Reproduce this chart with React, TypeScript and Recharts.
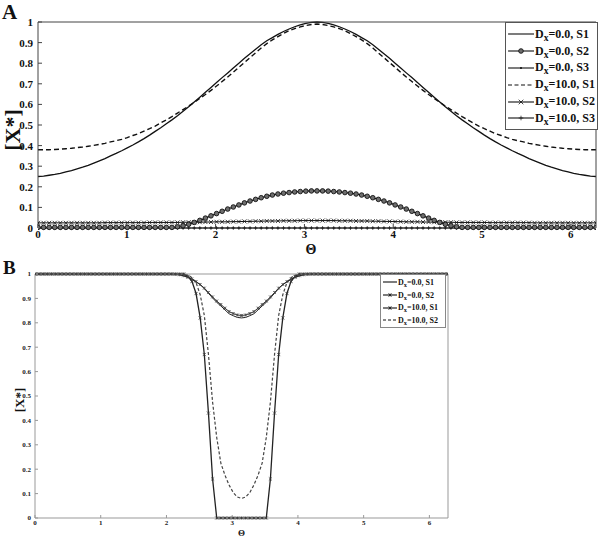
import React from "react";
import { LineChart, Line, XAxis, YAxis, Legend } from "recharts";

// sample grid, 0..2π in 100 steps
const THETA = [
  0, 0.0628, 0.1257, 0.1885, 0.2513, 0.3142, 0.377, 0.4398, 0.5027, 0.5655,
  0.6283, 0.6912, 0.754, 0.8168, 0.8796, 0.9425, 1.0053, 1.0681, 1.131, 1.1938,
  1.2566, 1.3195, 1.3823, 1.4451, 1.508, 1.5708, 1.6336, 1.6965, 1.7593, 1.8221,
  1.885, 1.9478, 2.0106, 2.0735, 2.1363, 2.1991, 2.2619, 2.3248, 2.3876, 2.4504,
  2.5133, 2.5761, 2.6389, 2.7018, 2.7646, 2.8274, 2.8903, 2.9531, 3.0159, 3.0788,
  3.1416,
  3.2044, 3.2673, 3.3301, 3.3929, 3.4558, 3.5186, 3.5814, 3.6442, 3.7071, 3.7699,
  3.8327, 3.8956, 3.9584, 4.0212, 4.0841, 4.1469, 4.2097, 4.2726, 4.3354, 4.3982,
  4.4611, 4.5239, 4.5867, 4.6496, 4.7124, 4.7752, 4.8381, 4.9009, 4.9637, 5.0265,
  5.0894, 5.1522, 5.215, 5.2779, 5.3407, 5.4035, 5.4664, 5.5292, 5.592, 5.6549,
  5.7177, 5.7805, 5.8434, 5.9062, 5.969, 6.0319, 6.0947, 6.1575, 6.2204, 6.2832,
];

// panel A
const A_D0_S1 = [
  0.25, 0.252, 0.256, 0.26, 0.265, 0.272, 0.279, 0.287, 0.295, 0.304,
  0.315, 0.326, 0.337, 0.35, 0.362, 0.375, 0.389, 0.403, 0.418, 0.434,
  0.451, 0.469, 0.487, 0.506, 0.525, 0.545, 0.567, 0.589, 0.612, 0.635,
  0.659, 0.682, 0.706, 0.73, 0.753, 0.777, 0.8, 0.824, 0.846, 0.868,
  0.89, 0.909, 0.924, 0.94, 0.954, 0.966, 0.977, 0.986, 0.993, 0.998,
  1.0,
  0.998, 0.993, 0.986, 0.977, 0.966, 0.954, 0.94, 0.924, 0.909, 0.89,
  0.868, 0.846, 0.824, 0.8, 0.777, 0.753, 0.73, 0.706, 0.682, 0.659,
  0.635, 0.612, 0.589, 0.567, 0.545, 0.525, 0.506, 0.487, 0.469, 0.451,
  0.434, 0.418, 0.403, 0.389, 0.375, 0.362, 0.35, 0.337, 0.326, 0.315,
  0.304, 0.295, 0.287, 0.279, 0.272, 0.265, 0.26, 0.256, 0.252, 0.25,
];
const A_D0_S2 = [
  0.003, 0.003, 0.003, 0.003, 0.003, 0.003, 0.003, 0.003, 0.003, 0.003,
  0.003, 0.003, 0.003, 0.003, 0.003, 0.003, 0.003, 0.003, 0.003, 0.003,
  0.003, 0.003, 0.003, 0.003, 0.003, 0.006, 0.011, 0.018, 0.027, 0.037,
  0.048, 0.059, 0.07, 0.081, 0.092, 0.102, 0.112, 0.122, 0.131, 0.139,
  0.147, 0.154, 0.16, 0.165, 0.169, 0.172, 0.175, 0.177, 0.179, 0.18,
  0.18,
  0.18, 0.179, 0.177, 0.175, 0.172, 0.169, 0.165, 0.16, 0.154, 0.147,
  0.139, 0.131, 0.122, 0.112, 0.102, 0.092, 0.081, 0.07, 0.059, 0.048,
  0.037, 0.027, 0.018, 0.011, 0.006, 0.003, 0.003, 0.003, 0.003, 0.003,
  0.003, 0.003, 0.003, 0.003, 0.003, 0.003, 0.003, 0.003, 0.003, 0.003,
  0.003, 0.003, 0.003, 0.003, 0.003, 0.003, 0.003, 0.003, 0.003, 0.003,
];
const A_D0_S3 = [
  0, 0, 0, 0, 0, 0, 0, 0, 0, 0, 0, 0, 0, 0, 0, 0, 0, 0, 0, 0,
  0, 0, 0, 0, 0, 0, 0, 0, 0, 0, 0, 0, 0, 0, 0, 0, 0, 0, 0, 0,
  0, 0, 0, 0, 0, 0, 0, 0, 0, 0, 0,
  0, 0, 0, 0, 0, 0, 0, 0, 0, 0, 0, 0, 0, 0, 0, 0, 0, 0, 0, 0,
  0, 0, 0, 0, 0, 0, 0, 0, 0, 0, 0, 0, 0, 0, 0, 0, 0, 0, 0, 0,
  0, 0, 0, 0, 0, 0, 0, 0, 0, 0,
];
const A_D10_S1 = [
  0.38, 0.38, 0.38, 0.381, 0.383, 0.385, 0.387, 0.39, 0.393, 0.397,
  0.401, 0.406, 0.411, 0.418, 0.424, 0.43, 0.439, 0.449, 0.458, 0.47,
  0.482, 0.495, 0.51, 0.525, 0.541, 0.558, 0.575, 0.592, 0.61, 0.629,
  0.648, 0.668, 0.689, 0.711, 0.733, 0.756, 0.78, 0.803, 0.827, 0.85,
  0.874, 0.895, 0.913, 0.929, 0.944, 0.958, 0.968, 0.976, 0.983, 0.988,
  0.99,
  0.988, 0.983, 0.976, 0.968, 0.958, 0.944, 0.929, 0.913, 0.895, 0.874,
  0.85, 0.827, 0.803, 0.78, 0.756, 0.733, 0.711, 0.689, 0.668, 0.648,
  0.629, 0.61, 0.592, 0.575, 0.558, 0.541, 0.525, 0.51, 0.495, 0.482,
  0.47, 0.458, 0.449, 0.439, 0.43, 0.424, 0.418, 0.411, 0.406, 0.401,
  0.397, 0.393, 0.39, 0.387, 0.385, 0.383, 0.381, 0.38, 0.38, 0.38,
];
const A_D10_S2 = [
  0.025, 0.025, 0.025, 0.025, 0.025, 0.025, 0.025, 0.025, 0.025, 0.025,
  0.025, 0.025, 0.026, 0.026, 0.026, 0.026, 0.026, 0.026, 0.026, 0.026,
  0.027, 0.027, 0.027, 0.027, 0.027, 0.027, 0.028, 0.028, 0.028, 0.028,
  0.029, 0.029, 0.03, 0.03, 0.03, 0.031, 0.031, 0.032, 0.032, 0.033,
  0.033, 0.034, 0.034, 0.034, 0.035, 0.035, 0.035, 0.036, 0.036, 0.036,
  0.036,
  0.036, 0.036, 0.036, 0.035, 0.035, 0.035, 0.034, 0.034, 0.034, 0.033,
  0.033, 0.032, 0.032, 0.031, 0.031, 0.03, 0.03, 0.03, 0.029, 0.029,
  0.028, 0.028, 0.028, 0.028, 0.027, 0.027, 0.027, 0.027, 0.027, 0.027,
  0.026, 0.026, 0.026, 0.026, 0.026, 0.026, 0.026, 0.026, 0.025, 0.025,
  0.025, 0.025, 0.025, 0.025, 0.025, 0.025, 0.025, 0.025, 0.025, 0.025,
];
const A_D10_S3 = [
  0, 0, 0, 0, 0, 0, 0, 0, 0, 0, 0, 0, 0, 0, 0, 0, 0, 0, 0, 0,
  0, 0, 0, 0, 0, 0, 0, 0, 0, 0, 0, 0, 0, 0, 0, 0, 0, 0, 0, 0,
  0, 0, 0, 0, 0, 0, 0, 0, 0, 0, 0,
  0, 0, 0, 0, 0, 0, 0, 0, 0, 0, 0, 0, 0, 0, 0, 0, 0, 0, 0, 0,
  0, 0, 0, 0, 0, 0, 0, 0, 0, 0, 0, 0, 0, 0, 0, 0, 0, 0, 0, 0,
  0, 0, 0, 0, 0, 0, 0, 0, 0, 0,
];

// panel B
const B_D0_S1 = [
  1, 1, 1, 1, 1, 1, 1, 1, 1, 1, 1, 1, 1, 1, 1, 1, 1, 1, 1, 1,
  1, 1, 1, 1, 1, 1, 1, 1, 1, 1,
  1, 1, 1, 1, 0.999, 0.997, 0.993, 0.987, 0.978, 0.968,
  0.956, 0.94, 0.921, 0.902, 0.884, 0.869, 0.853, 0.837, 0.829, 0.822,
  0.82,
  0.822, 0.829, 0.837, 0.853, 0.869, 0.884, 0.902, 0.921, 0.94, 0.956,
  0.968, 0.978, 0.987, 0.993, 0.997, 0.999, 1, 1, 1, 1,
  1, 1, 1, 1, 1, 1, 1, 1, 1, 1, 1, 1, 1, 1, 1, 1, 1, 1, 1, 1,
  1, 1, 1, 1, 1, 1, 1, 1, 1, 1,
];
const B_D0_S2 = [
  1, 1, 1, 1, 1, 1, 1, 1, 1, 1, 1, 1, 1, 1, 1, 1, 1, 1, 1, 1,
  1, 1, 1, 1, 1, 1, 1, 1, 1, 1,
  1, 1, 1, 1, 1, 1, 1, 0.99, 0.97, 0.92,
  0.82, 0.67, 0.43, 0.16, 0, 0, 0, 0, 0, 0,
  0,
  0, 0, 0, 0, 0, 0, 0.16, 0.43, 0.67, 0.82,
  0.92, 0.97, 0.99, 1, 1, 1, 1, 1, 1, 1,
  1, 1, 1, 1, 1, 1, 1, 1, 1, 1, 1, 1, 1, 1, 1, 1, 1, 1, 1, 1,
  1, 1, 1, 1, 1, 1, 1, 1, 1, 1,
];
const B_D10_S1 = [
  1, 1, 1, 1, 1, 1, 1, 1, 1, 1, 1, 1, 1, 1, 1, 1, 1, 1, 1, 1,
  1, 1, 1, 1, 1, 1, 1, 1, 1, 1,
  1, 1, 1, 1, 0.999, 0.997, 0.993, 0.987, 0.979, 0.969,
  0.957, 0.942, 0.924, 0.906, 0.889, 0.875, 0.86, 0.846, 0.838, 0.832,
  0.83,
  0.832, 0.838, 0.846, 0.86, 0.875, 0.889, 0.906, 0.924, 0.942, 0.957,
  0.969, 0.979, 0.987, 0.993, 0.997, 0.999, 1, 1, 1, 1,
  1, 1, 1, 1, 1, 1, 1, 1, 1, 1, 1, 1, 1, 1, 1, 1, 1, 1, 1, 1,
  1, 1, 1, 1, 1, 1, 1, 1, 1, 1,
];
const B_D10_S2 = [
  1, 1, 1, 1, 1, 1, 1, 1, 1, 1, 1, 1, 1, 1, 1, 1, 1, 1, 1, 1,
  1, 1, 1, 1, 1, 1, 1, 1, 1, 1,
  1, 1, 1, 1, 1, 1, 1, 0.996, 0.985, 0.965,
  0.915, 0.83, 0.67, 0.475, 0.33, 0.225, 0.175, 0.135, 0.104, 0.086,
  0.08,
  0.086, 0.104, 0.135, 0.175, 0.225, 0.33, 0.475, 0.67, 0.83, 0.915,
  0.965, 0.985, 0.996, 1, 1, 1, 1, 1, 1, 1,
  1, 1, 1, 1, 1, 1, 1, 1, 1, 1, 1, 1, 1, 1, 1, 1, 1, 1, 1, 1,
  1, 1, 1, 1, 1, 1, 1, 1, 1, 1,
];

const X_TICKS = [0, 1, 2, 3, 4, 5, 6];
const Y_TICKS = [0, 0.1, 0.2, 0.3, 0.4, 0.5, 0.6, 0.7, 0.8, 0.9, 1];
const X_MAX = 6.2832;

const LEGEND_A = [
  { key: "d0s1", dx: "0.0", s: "S1", marker: "none", dash: "" },
  { key: "d0s2", dx: "0.0", s: "S2", marker: "circle", dash: "" },
  { key: "d0s3", dx: "0.0", s: "S3", marker: "dot", dash: "" },
  { key: "d10s1", dx: "10.0", s: "S1", marker: "none", dash: "4 2.5" },
  { key: "d10s2", dx: "10.0", s: "S2", marker: "x", dash: "" },
  { key: "d10s3", dx: "10.0", s: "S3", marker: "plus", dash: "" },
];
const LEGEND_B = [
  { key: "d0s1", dx: "0.0", s: "S1", marker: "none", dash: "" },
  { key: "d0s2", dx: "0.0", s: "S2", marker: "star", dash: "" },
  { key: "d10s1", dx: "10.0", s: "S1", marker: "star", dash: "" },
  { key: "d10s2", dx: "10.0", s: "S2", marker: "none", dash: "3 2" },
];

const dataA = THETA.map((t, i) => ({
  theta: t,
  d0s1: A_D0_S1[i],
  d0s2: A_D0_S2[i],
  d0s3: A_D0_S3[i],
  d10s1: A_D10_S1[i],
  d10s2: A_D10_S2[i],
  d10s3: A_D10_S3[i],
}));

const dataB = THETA.map((t, i) => ({
  theta: t,
  d0s1: B_D0_S1[i],
  d0s2: B_D0_S2[i],
  d10s1: B_D10_S1[i],
  d10s2: B_D10_S2[i],
}));

const SERIF = '"Liberation Serif", "DejaVu Serif", serif';

function drawMarker(kind: string, cx: number, cy: number, s: number, color: string, key?: any) {
  if (kind === "circle")
    return <circle key={key} cx={cx} cy={cy} r={s} fill="#6e6e6e" stroke={color} strokeWidth={0.9} />;
  if (kind === "dot") return <circle key={key} cx={cx} cy={cy} r={s * 0.45} fill={color} />;
  if (kind === "x")
    return (
      <g key={key} stroke={color} strokeWidth={0.8}>
        <line x1={cx - s} y1={cy - s} x2={cx + s} y2={cy + s} />
        <line x1={cx - s} y1={cy + s} x2={cx + s} y2={cy - s} />
      </g>
    );
  if (kind === "plus")
    return (
      <g key={key} stroke={color} strokeWidth={0.7}>
        <line x1={cx - s} y1={cy} x2={cx + s} y2={cy} />
        <line x1={cx} y1={cy - s} x2={cx} y2={cy + s} />
      </g>
    );
  if (kind === "star")
    return (
      <g key={key} stroke={color} strokeWidth={0.7}>
        <line x1={cx - s} y1={cy - s} x2={cx + s} y2={cy + s} />
        <line x1={cx - s} y1={cy + s} x2={cx + s} y2={cy - s} />
        <line x1={cx} y1={cy - s} x2={cx} y2={cy + s} />
      </g>
    );
  return <g key={key} />;
}

const markerDot = (kind: string, s: number, color: string) => (props: any) => {
  const { cx, cy, index } = props;
  if (cx == null || cy == null) return <g key={index} />;
  return drawMarker(kind, cx, cy, s, color, index);
};

function LegendBox({ items, font, rowH, lineW, mSize, boxStyle }: any) {
  return (
    <div
      style={{
        border: "1px solid #555",
        background: "#fff",
        fontFamily: SERIF,
        fontWeight: "bold",
        fontSize: font,
        color: "#111",
        boxSizing: "border-box",
        ...boxStyle,
      }}
    >
      {items.map((it: any) => (
        <div key={it.key} style={{ height: rowH, display: "flex", alignItems: "center", whiteSpace: "nowrap" }}>
          <svg width={lineW} height={10} style={{ flex: "none" }}>
            <line x1={0} y1={5} x2={lineW} y2={5} stroke="#111" strokeWidth={1.1} strokeDasharray={it.dash} />
            {drawMarker(it.marker, lineW / 2, 5, mSize, "#111")}
          </svg>
          <span style={{ marginLeft: 1 }}>
            D<sub style={{ fontSize: "0.8em", verticalAlign: "-0.3em", lineHeight: 0 }}>x</sub>={it.dx}, {it.s}
          </span>
        </div>
      ))}
    </div>
  );
}

const tickFmt = (v: number) => String(v);

export default function App() {
  const tickA = { fontFamily: SERIF, fontWeight: "bold", fontSize: 11, fill: "#111" } as any;
  const tickB = { fontFamily: SERIF, fontWeight: "bold", fontSize: 7, fill: "#222" } as any;
  return (
    <div style={{ position: "absolute", left: 0, top: 0, width: 600, height: 538, background: "#fff", overflow: "hidden" }}>
      {/* panel A */}
      <div style={{ position: "absolute", left: 0, top: 0 }}>
        <LineChart width={600} height={260} data={dataA} margin={{ top: 21, right: 3, bottom: 0, left: 0 }}>
          <XAxis
            dataKey="theta"
            type="number"
            domain={[0, X_MAX]}
            ticks={X_TICKS}
            allowDataOverflow
            height={32}
            stroke="#444"
            tickSize={-4}
            tickMargin={6}
            tick={tickA}
            label={{ value: "Θ", position: "insideBottom", offset: 6, dx: -6, style: { fontFamily: SERIF, fontWeight: "bold", fontSize: 14, fill: "#111" } }}
          />
          <XAxis xAxisId="top" orientation="top" type="number" domain={[0, X_MAX]} ticks={X_TICKS} height={1} stroke="#444" tickSize={-4} tick={false} />
          <YAxis
            type="number"
            domain={[0, 1]}
            ticks={Y_TICKS}
            width={38}
            stroke="#444"
            tickSize={-4}
            tickMargin={9}
            tick={tickA}
            tickFormatter={tickFmt}
          />
          <YAxis yAxisId="right" orientation="right" type="number" domain={[0, 1]} ticks={Y_TICKS} width={1} stroke="#444" tickSize={-4} tick={false} />
          <Legend
            layout="horizontal"
            verticalAlign="middle"
            align="center"
            wrapperStyle={{ left: 505, top: 22, width: 93 }}
            content={() => (
              <LegendBox items={LEGEND_A} font={12} rowH={16.8} lineW={26} mSize={2.3} boxStyle={{ width: 93, height: 108, paddingTop: 3, paddingLeft: 2 }} />
            )}
          />
          <Line dataKey="d10s3" name="Dx=10.0, S3" type="linear" stroke="#333" strokeWidth={0.7} dot={markerDot("plus", 2, "#222")} isAnimationActive={false} />
          <Line dataKey="d0s3" name="Dx=0.0, S3" type="linear" stroke="#333" strokeWidth={0.7} dot={markerDot("dot", 2, "#222")} isAnimationActive={false} />
          <Line dataKey="d10s2" name="Dx=10.0, S2" type="linear" stroke="#111" strokeWidth={1} dot={markerDot("x", 2, "#111")} isAnimationActive={false} />
          <Line dataKey="d0s2" name="Dx=0.0, S2" type="linear" stroke="#111" strokeWidth={1.2} dot={markerDot("circle", 2.3, "#111")} isAnimationActive={false} />
          <Line dataKey="d10s1" name="Dx=10.0, S1" type="linear" stroke="#111" strokeWidth={1.4} strokeDasharray="5 3" dot={false} isAnimationActive={false} />
          <Line dataKey="d0s1" name="Dx=0.0, S1" type="linear" stroke="#111" strokeWidth={1.3} dot={false} isAnimationActive={false} />
        </LineChart>
      </div>
      <div style={{ position: "absolute", left: 2, top: 0, fontFamily: SERIF, fontWeight: "bold", fontSize: 21, color: "#111" }}>A</div>
      <div
        style={{
          position: "absolute",
          left: 13,
          top: 130,
          transform: "translate(-50%, -50%) rotate(-90deg)",
          fontFamily: SERIF,
          fontWeight: "bold",
          fontSize: 22,
          color: "#111",
          whiteSpace: "nowrap",
        }}
      >
        [X*]
      </div>

      {/* panel B */}
      <div style={{ position: "absolute", left: 0, top: 258 }}>
        <LineChart width={460} height={280} data={dataB} margin={{ top: 15, right: 11, bottom: 0, left: 0 }}>
          <XAxis
            dataKey="theta"
            type="number"
            domain={[0, X_MAX]}
            ticks={X_TICKS}
            allowDataOverflow
            height={20}
            stroke="#999"
            tickSize={-3}
            tickMargin={5}
            tick={tickB}
            label={{ value: "Θ", position: "insideBottom", offset: 2, style: { fontFamily: SERIF, fontWeight: "bold", fontSize: 9, fill: "#111" } }}
          />
          <XAxis xAxisId="top" orientation="top" type="number" domain={[0, X_MAX]} ticks={X_TICKS} height={1} stroke="#999" tickSize={-3} tick={false} />
          <YAxis
            type="number"
            domain={[0, 1]}
            ticks={Y_TICKS}
            width={35}
            stroke="#999"
            tickSize={-3}
            tickMargin={7}
            tick={tickB}
            tickFormatter={tickFmt}
          />
          <YAxis yAxisId="right" orientation="right" type="number" domain={[0, 1]} ticks={Y_TICKS} width={1} stroke="#999" tickSize={-3} tick={false} />
          <Legend
            layout="horizontal"
            verticalAlign="middle"
            align="center"
            wrapperStyle={{ left: 380, top: 16, width: 66 }}
            content={() => (
              <LegendBox items={LEGEND_B} font={8} rowH={12.7} lineW={14} mSize={1.6} boxStyle={{ width: 66, height: 54, paddingTop: 1, paddingLeft: 2, borderColor: "#888" }} />
            )}
          />
          <Line dataKey="d10s2" name="Dx=10.0, S2" type="linear" stroke="#444" strokeWidth={1.2} strokeDasharray="3 2" dot={false} isAnimationActive={false} />
          <Line dataKey="d0s2" name="Dx=0.0, S2" type="linear" stroke="#222" strokeWidth={1.3} dot={markerDot("star", 1.6, "#333")} isAnimationActive={false} />
          <Line dataKey="d10s1" name="Dx=10.0, S1" type="linear" stroke="#333" strokeWidth={1} dot={markerDot("star", 1.5, "#444")} isAnimationActive={false} />
          <Line dataKey="d0s1" name="Dx=0.0, S1" type="linear" stroke="#222" strokeWidth={1} dot={false} isAnimationActive={false} />
        </LineChart>
      </div>
      <div style={{ position: "absolute", left: 3, top: 257, fontFamily: SERIF, fontWeight: "bold", fontSize: 19, color: "#111" }}>B</div>
      <div
        style={{
          position: "absolute",
          left: 20,
          top: 400,
          transform: "translate(-50%, -50%) rotate(-90deg)",
          fontFamily: SERIF,
          fontWeight: "bold",
          fontSize: 13,
          color: "#111",
          whiteSpace: "nowrap",
        }}
      >
        [X*]
      </div>
    </div>
  );
}
